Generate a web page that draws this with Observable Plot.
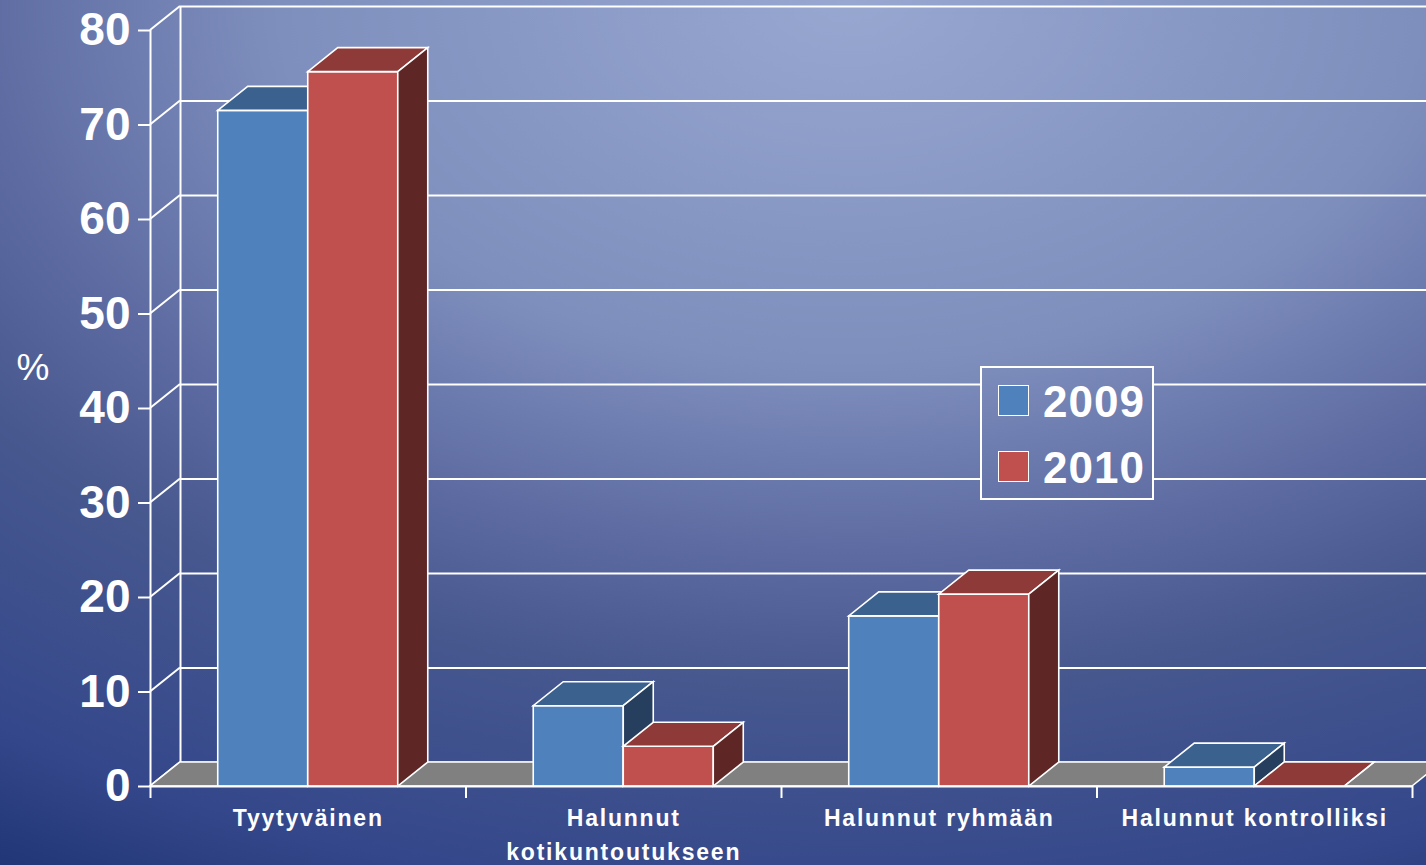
<!DOCTYPE html>
<html>
<head>
<meta charset="utf-8">
<script src="https://cdn.jsdelivr.net/npm/d3@7"></script>
<script src="https://cdn.jsdelivr.net/npm/@observablehq/plot@0.6"></script>
<style>
  html {
    margin: 0; padding: 0;
    background: radial-gradient(1500px 950px at 850px 0px, #98a7d0 0%, #8797c4 25%, #7f8fbd 38%, #5d6ba2 58%, #47588f 72%, #34478a 95%, #1f3575 108%) fixed;
  }
  body { margin: 0; padding: 0; width: 1426px; height: 865px; overflow: hidden; position: relative;
    font-family: "Liberation Sans", Arial, sans-serif; }
  #chart { position: absolute; left: 0; top: 0; }
  #legend {
    position: absolute; left: 980px; top: 366px; width: 174px; height: 134px;
    box-sizing: border-box; border: 2px solid #fff;
    background: radial-gradient(1500px 950px at 850px 0px, #98a7d0 0%, #8797c4 25%, #7f8fbd 38%, #5d6ba2 58%, #47588f 72%, #34478a 95%, #1f3575 108%) fixed;
  }
  #legend .sw { position: absolute; left: 16px; width: 31px; height: 31px; box-sizing: border-box; border: 1px solid #fff; }
  #legend .lb { position: absolute; left: 61px; font-size: 44px; font-weight: bold; color: #fff; line-height: 44px; letter-spacing: 1px; white-space: nowrap; }
</style>
</head>
<body>
<div id="chart"></div>
<div id="legend"></div>
<script>
// ---- data ----
const categories = ["Tyytyväinen", "Halunnut\nkotikuntoutukseen", "Halunnut ryhmään", "Halunnut kontrolliksi"];
const years = ["2009", "2010"];
const values2009 = [71.5, 8.5, 18.0, 2.0];
const values2010 = [75.6, 4.2, 20.3, 0];
const yTicks = [0, 10, 20, 30, 40, 50, 60, 70, 80];
const xBoundaries = [0, 1, 2, 3, 4];
const yLabel = "%";

// ---- styles ----
const colors = {
  "2009": {front: "#4f81bd", top: "#3b618f", side: "#263f5e"},
  "2010": {front: "#c0504d", top: "#8e3a39", side: "#5e2726"}
};
const DX = 30, DY = -24;      // 3D depth offset in pixels
const W = 0.2853;             // bar width as a fraction of a category band

const rows = categories.flatMap((c, i) => [
  {i, year: years[0], k: 0, value: values2009[i]},
  {i, year: years[1], k: 1, value: values2010[i]}
]);

function poly(g, pts, fill) {
  g.append("polygon")
    .attr("points", pts.map(p => p.join(",")).join(" "))
    .attr("fill", fill)
    .attr("stroke", "white")
    .attr("stroke-width", 1.6)
    .attr("stroke-linejoin", "miter");
}

const chart = Plot.plot({
  width: 1426,
  height: 865,
  marginLeft: 150,
  marginRight: 14,
  marginTop: 30,
  marginBottom: 79,
  x: {domain: [0, 4]},
  y: {domain: [0, 80]},
  style: {background: "transparent", fontFamily: "'Liberation Sans', Arial, sans-serif", color: "white"},
  marks: [
    // back-wall gridlines
    Plot.ruleY(yTicks, {y: d => d, x1: () => 0, x2: () => 4.3, dx: DX, dy: DY, stroke: "white", strokeWidth: 2}),
    // back wall left edge
    Plot.ruleX([0], {x: d => d, y1: () => 0, y2: () => 80, dx: DX, dy: DY, stroke: "white", strokeWidth: 2}),
    // side-wall diagonals
    Plot.link(yTicks, {
      x1: () => 0, x2: () => 0, y1: d => d, y2: d => d,
      render: (I, s, v) => {
        const g = d3.create("svg:g");
        for (const i of I) {
          g.append("line")
            .attr("x1", v.x1[i]).attr("y1", v.y1[i])
            .attr("x2", v.x1[i] + DX).attr("y2", v.y1[i] + DY)
            .attr("stroke", "white").attr("stroke-width", 2);
        }
        return g.node();
      }
    }),
    // floor
    Plot.rect([0], {
      x1: () => 0, x2: () => 4, y1: () => 0, y2: () => 0,
      render: (I, s, v) => {
        const g = d3.create("svg:g");
        const x1 = v.x1[0], x2 = v.x2[0], y = v.y1[0];
        poly(g, [[x1, y], [x2, y], [x2 + DX, y + DY], [x1 + DX, y + DY]], "#808080");
        return g.node();
      }
    }),
    // 3D bars
    Plot.rect(rows, {
      x1: d => d.i + 0.5 + (d.k - 1) * W,
      x2: d => d.i + 0.5 + d.k * W,
      y1: () => 0,
      y2: "value",
      render: (I, s, v) => {
        const g = d3.create("svg:g");
        const order = Array.from(I).sort((a, b) => v.x1[a] - v.x1[b]);
        for (const i of order) {
          const c = colors[rows[i].year];
          const x1 = v.x1[i], x2 = v.x2[i], y0 = v.y1[i], y1 = v.y2[i];
          poly(g, [[x1, y0], [x2, y0], [x2, y1], [x1, y1]], c.front);
          poly(g, [[x1, y1], [x2, y1], [x2 + DX, y1 + DY], [x1 + DX, y1 + DY]], c.top);
          poly(g, [[x2, y1], [x2, y0], [x2 + DX, y0 + DY], [x2 + DX, y1 + DY]], c.side);
        }
        return g.node();
      }
    }),
    // front axis lines
    Plot.ruleX([0], {stroke: "white", strokeWidth: 2}),
    Plot.ruleY([0], {stroke: "white", strokeWidth: 2}),
    Plot.axisY(yTicks, {anchor: "left", tickSize: 12, tickPadding: 8, fontSize: 46, fontWeight: "bold", color: "white", strokeWidth: 2, label: null}),
    Plot.axisX(xBoundaries, {anchor: "bottom", tickSize: 12, tickFormat: () => "", color: "white", strokeWidth: 2, label: null}),
    // category labels
    Plot.text(categories, {
      x: (d, i) => i + 0.5, y: () => 0, text: d => d,
      lineAnchor: "top", dy: 15, lineHeight: 1.5,
      fontSize: 23, fontWeight: "bold", fill: "white"
    }),
    // y label
    Plot.text([yLabel], {frameAnchor: "left", dx: -134, dy: -40, fontSize: 37, fill: "white", text: d => d})
  ]
});

d3.select(chart).selectAll('g[aria-label="text"]').filter((d, i) => i === 0)
  .selectAll("text").attr("letter-spacing", "1.8px");

document.getElementById("chart").appendChild(chart);

// legend
const legend = d3.select("#legend");
years.forEach((y, j) => {
  legend.append("div").attr("class", "sw")
    .style("top", (17 + j * 66) + "px")
    .style("background", colors[y].front);
  legend.append("div").attr("class", "lb")
    .style("top", (12 + j * 66) + "px")
    .text(y);
});
</script>
</body>
</html>
